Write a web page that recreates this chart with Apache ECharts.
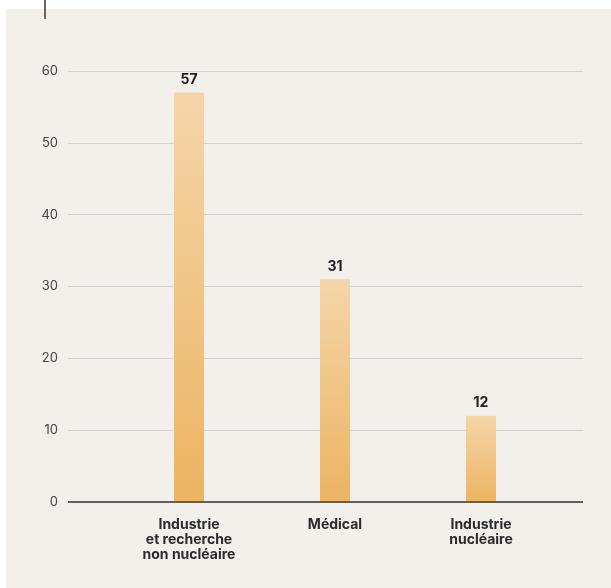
<!DOCTYPE html>
<html>
<head>
<meta charset="utf-8">
<script src="https://cdn.jsdelivr.net/npm/echarts@6/dist/echarts.min.js"></script>
<style>
  html, body { margin: 0; padding: 0; background: #fff; }
  #myChart { width: 611px; height: 588px; }
</style>
</head>
<body>
<div id="myChart"></div>
<script>
// data
const categories = ['Industrie\net recherche\nnon nucléaire', 'Médical', 'Industrie\nnucléaire']
const values = [57, 31, 12]
const yTicks = [0, 10, 20, 30, 40, 50, 60]

const font = 'Inter, "Liberation Sans", sans-serif'
let myChart = echarts.init(document.getElementById('myChart'))
myChart.setOption({
  animation: false,
  backgroundColor: '#ffffff',
  graphic: [
    { type: 'rect', z: -10, shape: { x: 6, y: 9, width: 605, height: 579 }, style: { fill: '#f3efeb' } },
    { type: 'rect', z: -5, shape: { x: 44, y: 0, width: 2, height: 19 }, style: { fill: '#666666' } }
  ],
  grid: [
    // background grid for the gridlines / baseline
    { left: 68, right: 28, top: 71, bottom: 86 },
    // grid for the bars
    { left: 116, right: 57, top: 71, bottom: 86 }
  ],
  xAxis: [
    {
      gridIndex: 0,
      type: 'value',
      min: 0,
      max: 1,
      axisLine: { show: false },
      axisTick: { show: false },
      axisLabel: { show: false },
      splitLine: { show: false }
    },
    {
      gridIndex: 1,
      type: 'category',
      data: categories,
      axisLine: { show: false },
      axisTick: { show: false },
      axisLabel: {
        margin: 15,
        color: '#2b2b2b',
        fontFamily: font,
        fontWeight: 'bold',
        fontSize: 14,
        lineHeight: 15,
        verticalAlign: 'top'
      }
    }
  ],
  yAxis: [
    {
      gridIndex: 0,
      type: 'value',
      min: yTicks[0],
      max: yTicks[yTicks.length - 1],
      interval: 10,
      axisLine: { show: false },
      axisTick: { show: false },
      axisLabel: {
        margin: 10,
        color: '#444444',
        fontFamily: font,
        fontSize: 13
      },
      splitLine: {
        lineStyle: { color: '#d6d4d2', width: 1 }
      }
    },
    {
      gridIndex: 1,
      type: 'value',
      min: yTicks[0],
      max: yTicks[yTicks.length - 1],
      interval: 10,
      axisLine: { show: false },
      axisTick: { show: false },
      axisLabel: { show: false },
      splitLine: { show: false }
    }
  ],
  series: [
    {
      type: 'line',
      xAxisIndex: 0,
      yAxisIndex: 0,
      data: [[0, 0], [1, 0]],
      symbol: 'none',
      silent: true,
      lineStyle: { color: '#5f5f5f', width: 2 },
      z: 5
    },
    {
      type: 'bar',
      xAxisIndex: 1,
      yAxisIndex: 1,
      data: values,
      barWidth: 30,
      z: 3,
      itemStyle: {
        color: new echarts.graphic.LinearGradient(0, 0, 0, 1, [
          { offset: 0, color: '#f5d5a8' },
          { offset: 1, color: '#ecb462' }
        ])
      },
      label: {
        show: true,
        position: 'top',
        distance: 6,
        color: '#222222',
        fontFamily: font,
        fontWeight: 'bold',
        fontSize: 14
      }
    }
  ]
})
</script>
</body>
</html>
